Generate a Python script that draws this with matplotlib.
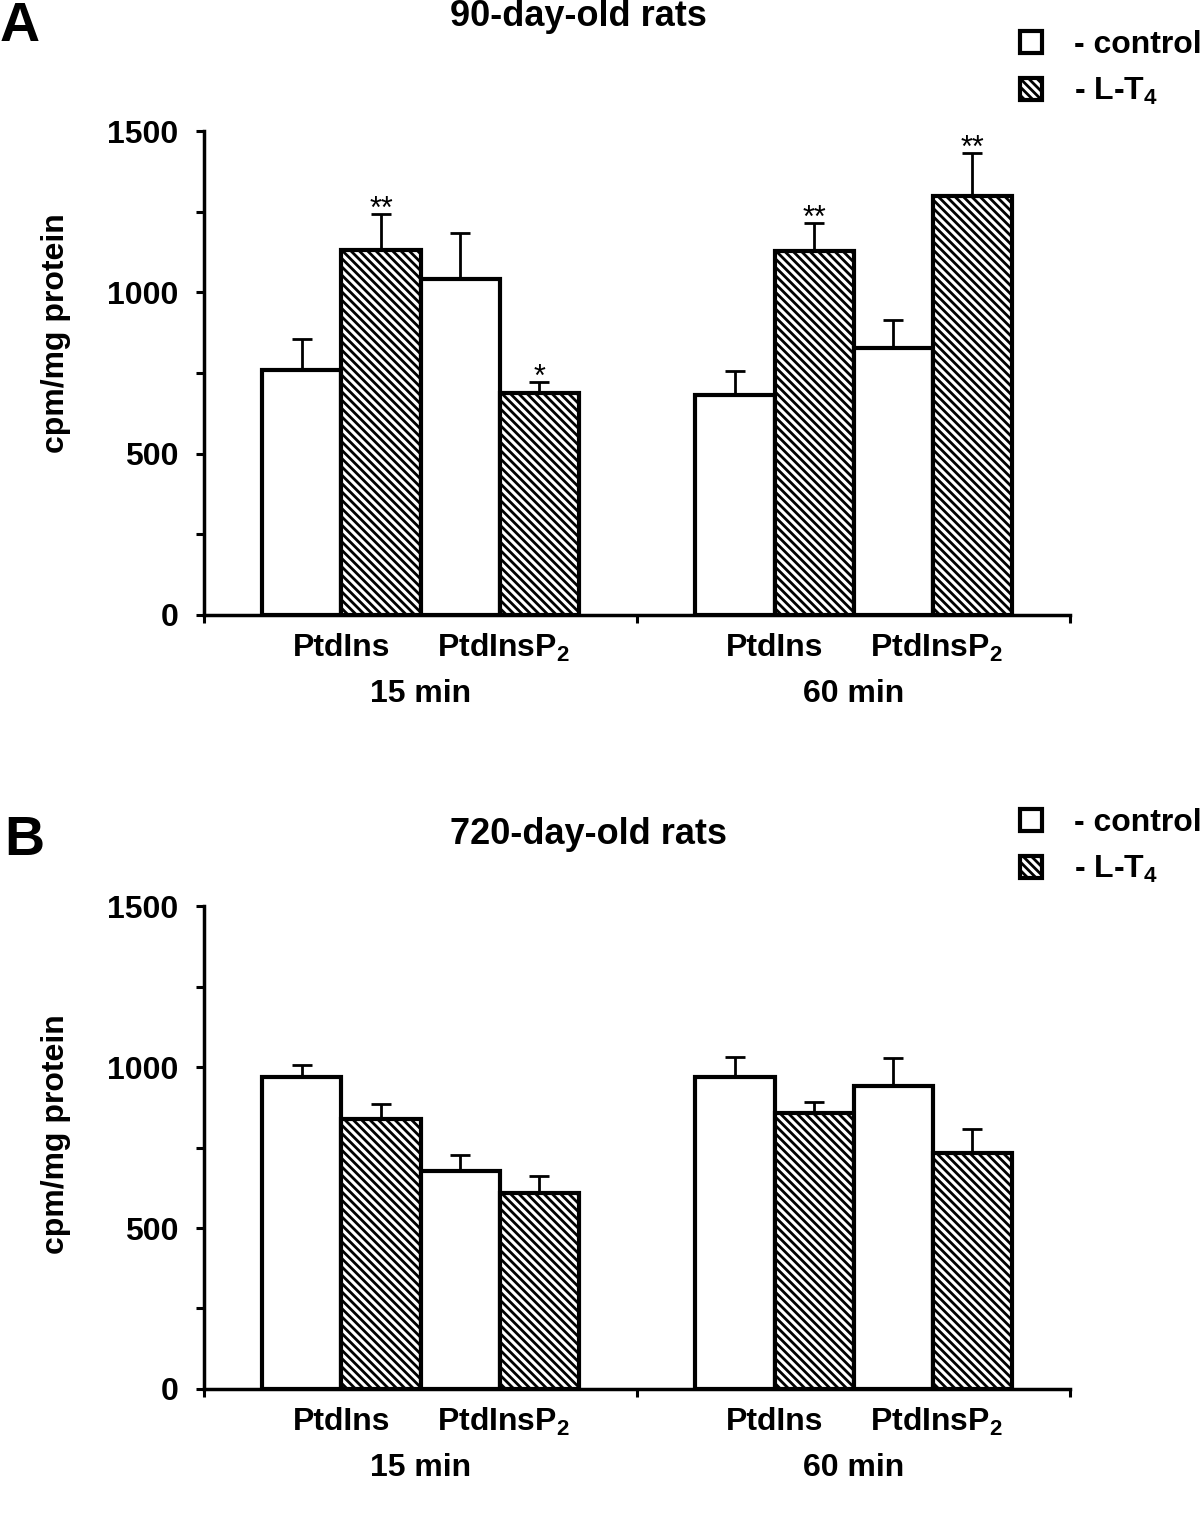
import numpy as np
import matplotlib
matplotlib.use("Agg")
import matplotlib.pyplot as plt
from matplotlib.ticker import MultipleLocator
from matplotlib.patches import Patch

plt.rcParams["font.family"] = ["Liberation Sans", "DejaVu Sans"]
plt.rcParams["mathtext.fontset"] = "custom"
plt.rcParams["mathtext.rm"] = "Liberation Sans"
plt.rcParams["mathtext.it"] = "Liberation Sans"
plt.rcParams["mathtext.bf"] = "Liberation Sans:bold"
plt.rcParams["hatch.linewidth"] = 2.0

# time points and lipid fractions
times = ["15 min", "60 min"]
lipids = ["PtdIns", r"PtdInsP$_\mathbf{2}$"]
groups = ["- control", r"- L-T$_\mathbf{4}$"]

# order per time point: PtdIns control, PtdIns L-T4, PtdInsP2 control, PtdInsP2 L-T4
a_vals = [[760, 1130, 1040, 688], [682, 1128, 827, 1298]]
a_err = [[95, 112, 143, 34], [74, 87, 87, 134]]
a_stars = [["", "**", "", "*"], ["", "**", "", "**"]]

b_vals = [[969, 838, 677, 610], [968, 858, 942, 732]]
b_err = [[37, 48, 50, 50], [63, 33, 86, 76]]
b_stars = [["", "", "", ""], ["", "", "", ""]]

panels = [
    ("A", "90-day-old rats", a_vals, a_err, a_stars),
    ("B", "720-day-old rats", b_vals, b_err, b_stars),
]

fig = plt.figure(figsize=(12, 15.2), dpi=100)
axes_pos = [[0.17, 0.5954, 0.7217, 0.3184], [0.17, 0.0862, 0.7217, 0.3177]]
title_y = [1 - 17 / 1520, 1 - 835 / 1520]
letter_xy = [(0.0, 1 - 1 / 1520, "top"), (4 / 1200, 1 - 841 / 1520, "center")]
legend_y = [1 - 30 / 1520, 1 - 808 / 1520]
ylabel_y = [0.583, 0.528]

w = 0.1825
offsets = np.array([-1.5, -0.5, 0.5, 1.5]) * w

for (letter, title, vals, errs, stars), pos, ty, lxy, ly, yly in zip(
        panels, axes_pos, title_y, letter_xy, legend_y, ylabel_y):
    ax = fig.add_axes(pos)
    for i, t in enumerate(times):
        c = i + 0.5
        for j in range(4):
            hatched = j % 2 == 1
            ax.bar(c + offsets[j], vals[i][j], width=w, color="white",
                   edgecolor="black", linewidth=3,
                   hatch="\\\\\\\\" if hatched else None, zorder=2)
            ax.errorbar(c + offsets[j], vals[i][j], yerr=[[0], [errs[i][j]]],
                        fmt="none", ecolor="black", elinewidth=2,
                        capsize=7, capthick=2, zorder=1)
            if stars[i][j]:
                ax.annotate(stars[i][j], (c + offsets[j], vals[i][j] + errs[i][j]),
                            xytext=(0, -8), textcoords="offset points",
                            ha="center", va="bottom", fontsize=22)
        ax.text(c - w, -0.068, lipids[0], transform=ax.get_xaxis_transform(),
                ha="center", va="center", fontsize=23, fontweight="bold")
        ax.text(c + w + 0.008, -0.068, lipids[1], transform=ax.get_xaxis_transform(),
                ha="center", va="center", fontsize=23, fontweight="bold")
        ax.text(c, -0.163, t, transform=ax.get_xaxis_transform(),
                ha="center", va="center", fontsize=23, fontweight="bold")

    ax.set_xlim(0, 2)
    ax.set_ylim(0, 1500)
    ax.set_xticks([0, 1, 2])
    ax.set_xticklabels([])
    ax.yaxis.set_major_locator(MultipleLocator(500))
    ax.yaxis.set_minor_locator(MultipleLocator(250))
    ax.tick_params(axis="both", which="both", direction="out", length=5.5,
                   width=2.2, labelsize=23, pad=13)
    for lab in ax.get_yticklabels():
        lab.set_fontweight("bold")
    for s in ["top", "right"]:
        ax.spines[s].set_visible(False)
    for s in ["left", "bottom"]:
        ax.spines[s].set_linewidth(2.5)
    ax.set_ylabel("cpm/mg protein", fontsize=23, fontweight="bold")
    ax.yaxis.set_label_coords(-0.154, yly)

    fig.text(450 / 1200, ty, title, ha="left", va="center",
             fontsize=26, fontweight="bold")
    fig.text(lxy[0], lxy[1], letter, ha="left", va=lxy[2],
             fontsize=40, fontweight="bold")

    handles = [Patch(facecolor="white", edgecolor="black", linewidth=3),
               Patch(facecolor="white", edgecolor="black", linewidth=3,
                     hatch="\\\\\\\\")]
    fig.legend(handles, groups, loc="upper left",
               bbox_to_anchor=(1020 / 1200, ly), frameon=False,
               borderpad=0, borderaxespad=0,
               handlelength=0.7, handleheight=0.7, handletextpad=1.0,
               labelspacing=0.5, prop={"size": 23, "weight": "bold"})

fig.savefig("out.png", dpi=100)
